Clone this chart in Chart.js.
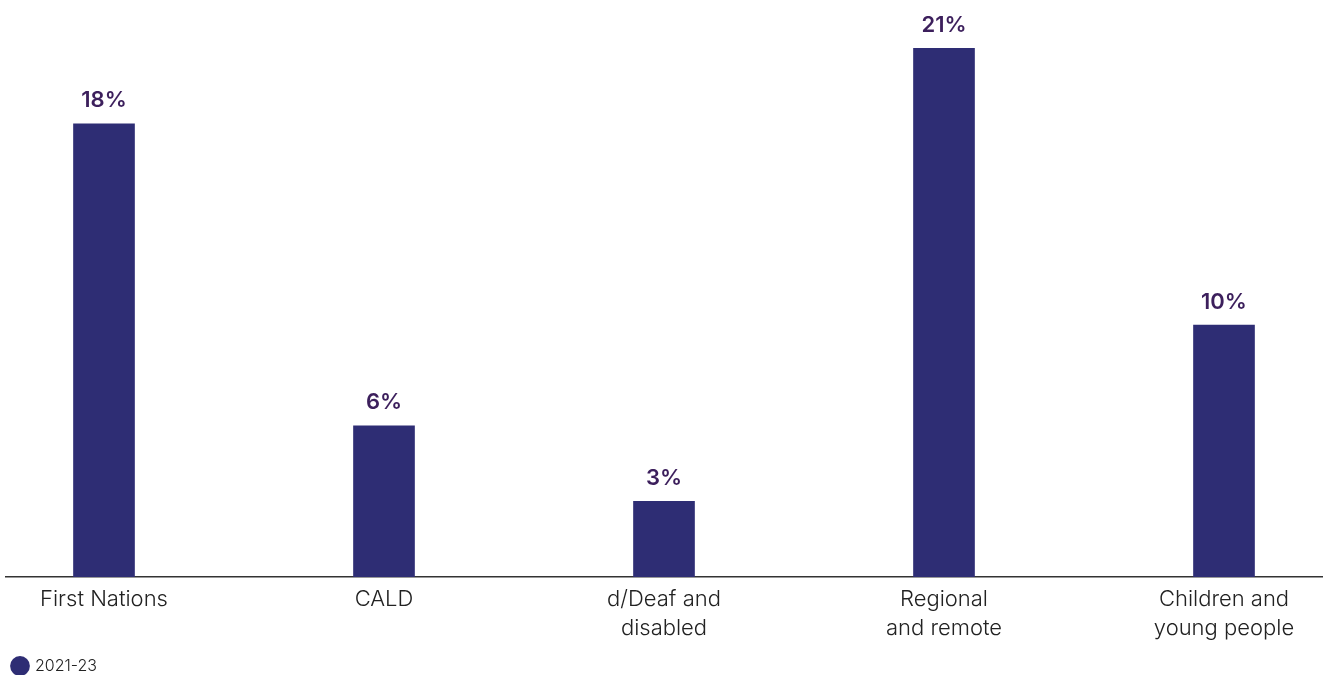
<!DOCTYPE html>
<html>
<head>
<meta charset="utf-8">
<script src="https://cdn.jsdelivr.net/npm/chart.js@4.4.0/dist/chart.umd.min.js"></script>
<style>
  html, body { margin: 0; padding: 0; background: #fff; }
  #wrap { width: 1325px; height: 675px; position: relative; }
</style>
</head>
<body>
<div id="wrap"><canvas id="groupsChart"></canvas></div>
<script>
const categories = [
    ['First Nations'],
    ['CALD'],
    ['d/Deaf and', 'disabled'],
    ['Regional', 'and remote'],
    ['Children and', 'young people']
];
const shareValues = [18, 6, 3, 21, 10];
const seriesLabel = '2021-23';

const barColor = '#2e2d74';
const labelColor = '#3c1f5c';
const fontFamily = 'Inter, "DejaVu Sans", sans-serif';

// value labels above each bar
const valueLabels = {
    id: 'valueLabels',
    afterDatasetsDraw(chart) {
        const ctx = chart.ctx;
        const meta = chart.getDatasetMeta(0);
        ctx.save();
        ctx.font = '600 22px ' + fontFamily;
        ctx.fillStyle = labelColor;
        ctx.textAlign = 'center';
        ctx.textBaseline = 'bottom';
        meta.data.forEach((bar, i) => {
            ctx.fillText(shareValues[i] + '%', bar.x, bar.y - 12);
        });
        ctx.restore();
    }
};

const ctx = document.getElementById('groupsChart').getContext('2d');
new Chart(ctx, {
    type: 'bar',
    data: {
        datasets: [{
            label: seriesLabel,
            data: shareValues.map((v, i) => ({ x: i, y: v })),
            backgroundColor: barColor,
            borderWidth: 0,
            barThickness: 61
        }]
    },
    options: {
        responsive: true,
        maintainAspectRatio: false,
        animation: false,
        layout: { padding: { top: 47, left: 6, right: 3, bottom: -9 } },
        plugins: {
            legend: {
                position: 'bottom',
                align: 'start',
                labels: {
                    usePointStyle: true,
                    pointStyle: 'circle',
                    boxWidth: 14,
                    boxHeight: 14,
                    padding: 7,
                    color: '#222',
                    font: { size: 16, weight: 300, family: fontFamily }
                }
            },
            tooltip: { enabled: false }
        },
        scales: {
            x: {
                type: 'linear',
                offset: false,
                min: -0.35,
                max: 4.35,
                grid: { display: false, drawTicks: false },
                border: { display: true, color: '#333', width: 1.5 },
                afterBuildTicks: (axis) => {
                    axis.ticks = categories.map((c, i) => ({ value: i }));
                },
                ticks: {
                    autoSkip: false,
                    maxRotation: 0,
                    padding: 8,
                    color: '#222',
                    font: { size: 22, weight: 300, family: fontFamily, lineHeight: 1.32 },
                    callback: (value) => categories[value]
                }
            },
            y: {
                display: false,
                min: 0,
                max: 21.05
            }
        }
    },
    plugins: [valueLabels]
});
</script>
</body>
</html>
